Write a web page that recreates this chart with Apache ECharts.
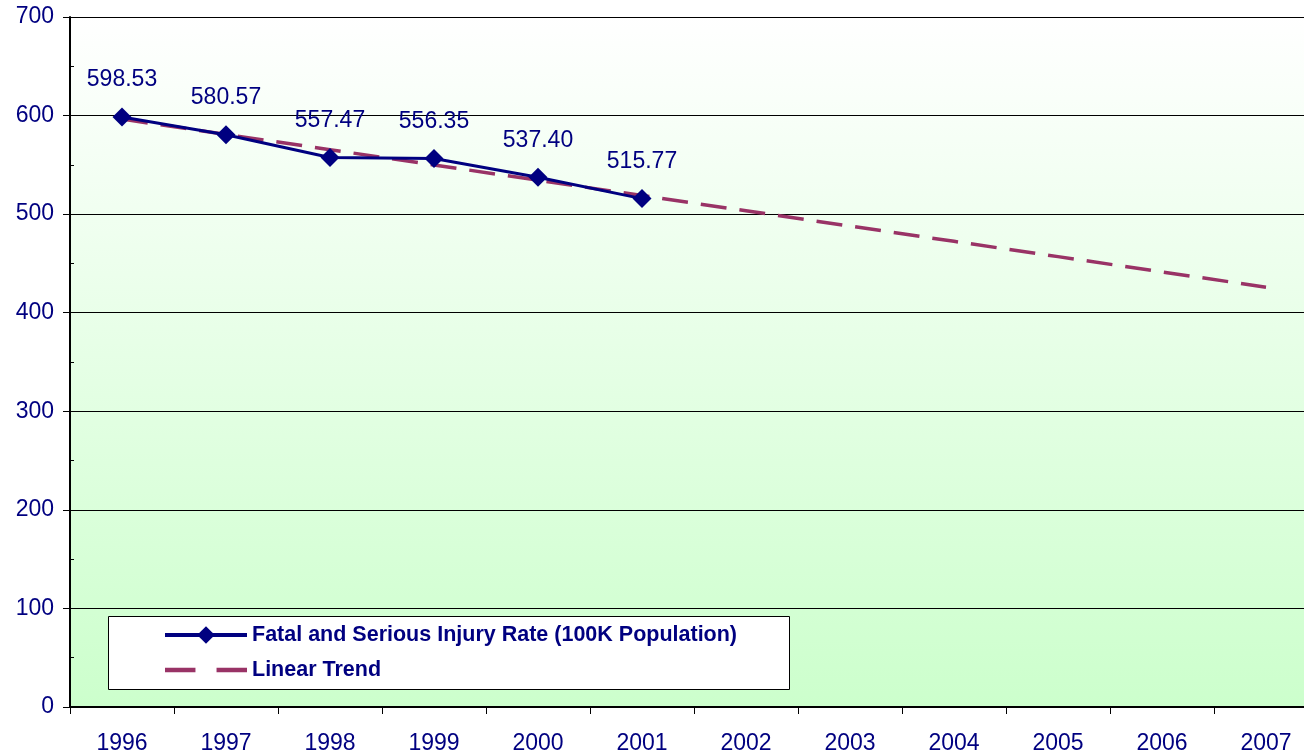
<!DOCTYPE html>
<html>
<head>
<meta charset="utf-8">
<script src="https://cdn.jsdelivr.net/npm/echarts@6/dist/echarts.min.js"></script>
<style>html,body{margin:0;padding:0;background:#fff;overflow:hidden;}#c{width:1318px;height:755px;}</style>
</head>
<body>
<div id="c"></div>
<script>
const years = ['1996','1997','1998','1999','2000','2001','2002','2003','2004','2005','2006','2007'];
const injuryRate = [598.53, 580.57, 557.47, 556.35, 537.40, 515.77, null, null, null, null, null, null];
const trendValues = [596.4, 580.9, 565.4, 549.9, 534.4, 518.9, 503.4, 487.9, 472.4, 456.9, 441.4, 425.9];
const seriesNames = ['Fatal and Serious Injury Rate (100K Population)', 'Linear Trend'];

const navy = '#000080';
const chart = echarts.init(document.getElementById('c'));
chart.setOption({
  animation: false,
  grid: {
    left: 70, top: 17, right: 0, bottom: 48,
    show: true, borderWidth: 0,
    backgroundColor: new echarts.graphic.LinearGradient(0, 0, 0, 1, [
      {offset: 0, color: '#ffffff'},
      {offset: 1, color: '#ccffcc'}
    ])
  },
  xAxis: {
    type: 'category', data: years, boundaryGap: true,
    axisLine: {lineStyle: {color: '#000', width: 2}},
    axisTick: {show: true, length: 7, lineStyle: {color: '#000', width: 1}},
    axisLabel: {color: navy, fontSize: 23, fontFamily: 'Liberation Sans, Arial', margin: 25}
  },
  yAxis: [{
    type: 'value', min: 0, max: 700, interval: 100,
    axisLine: {show: true, lineStyle: {color: '#000', width: 2}},
    axisTick: {show: true, length: 7, lineStyle: {color: '#000'}},
    splitLine: {show: true, lineStyle: {color: '#000', width: 1}},
    axisLabel: {color: navy, fontSize: 23, fontFamily: 'Liberation Sans, Arial', margin: 16}
  }, {
    type: 'value', min: 0, max: 700, interval: 50, position: 'left', offset: 0,
    axisLine: {show: false},
    axisTick: {show: true, inside: true, length: 4, lineStyle: {color: '#000'}},
    splitLine: {show: false},
    axisLabel: {show: false}
  }],
  legend: {
    orient: 'vertical', left: 158, top: 619, z: 20,
    itemWidth: 82, itemHeight: 22, itemGap: 13,
    textStyle: {color: navy, fontSize: 21.5, fontWeight: 'bold', fontFamily: 'Liberation Sans Narrow, Arial Narrow, Liberation Sans'},
    data: [
      {name: seriesNames[0], lineStyle: {width: 4}},
      {name: seriesNames[1], icon: 'path://M0,0H26V4H0Z M44,0H70V4H44Z', itemStyle: {color: '#993366'}}
    ]
  },
  graphic: [{
    type: 'rect', z: 15, left: 108, top: 616,
    shape: {width: 681, height: 73},
    style: {fill: '#fff', stroke: '#000', lineWidth: 1}
  }],
  series: [{
    name: seriesNames[1], type: 'line', data: trendValues,
    symbol: 'none', z: 2,
    lineStyle: {color: '#993366', width: 3.5, type: [26, 13]},
    itemStyle: {color: '#993366'}
  }, {
    name: seriesNames[0], type: 'line', data: injuryRate,
    symbol: 'diamond', symbolSize: 19, z: 3,
    lineStyle: {color: navy, width: 3},
    itemStyle: {color: navy},
    label: {show: true, position: 'top', distance: 16, color: navy, fontSize: 23,
      fontFamily: 'Liberation Sans, Arial',
      formatter: p => p.value.toFixed(2)}
  }]
});
</script>
</body>
</html>
